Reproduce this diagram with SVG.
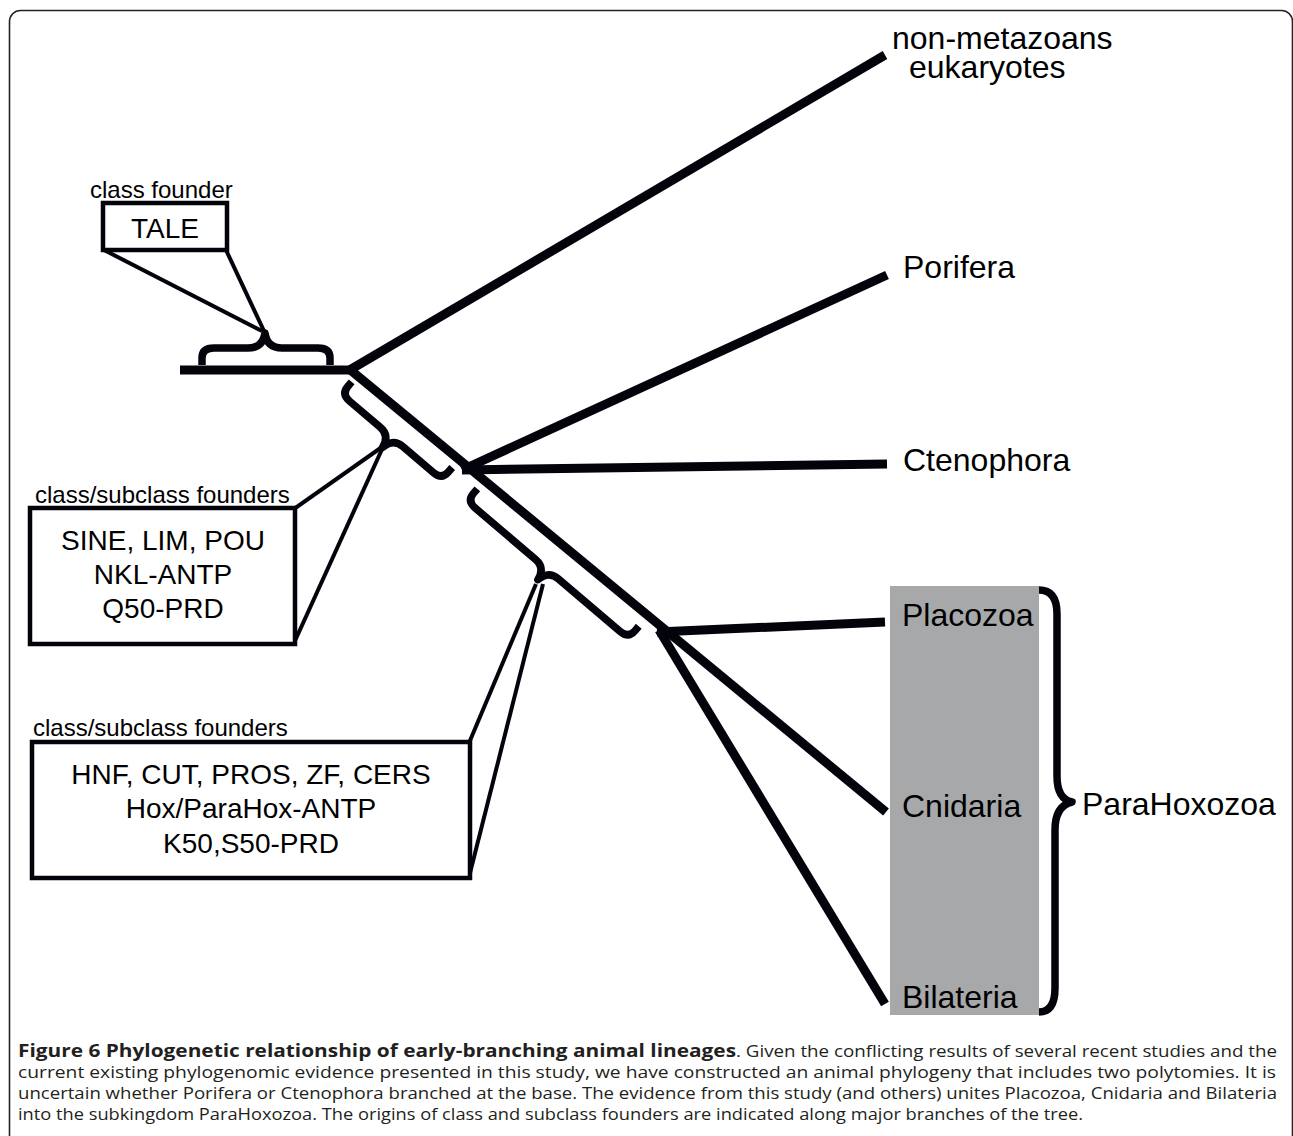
<svg xmlns="http://www.w3.org/2000/svg" width="1293" height="1136" viewBox="0 0 1293 1136">
<style>
.br{stroke:#03030c;stroke-width:9;fill:none;stroke-linecap:butt}
.brace{stroke:#03030c;stroke-width:7.5;fill:none;stroke-linejoin:round}
.thin{stroke:#03030c;stroke-width:4;fill:none}
.box{fill:#fff;stroke:#03030c;stroke-width:4.5}
.lbl{font-family:"Liberation Sans",Arial,sans-serif;font-size:32px;fill:#000}
.bx{font-family:"Liberation Sans",Arial,sans-serif;font-size:28px;fill:#000;text-anchor:middle}
.sm{font-family:"Liberation Sans",Arial,sans-serif;font-size:24px;fill:#000}
.cap{font-family:"Open Sans","Liberation Sans",sans-serif;font-size:17px;fill:#231f20}
</style>
<rect x="9.5" y="10.5" width="1283" height="1150" rx="11" fill="#fff" stroke="#222" stroke-width="1.6"/>
<g id="parahox-bg"><rect x="890" y="586" width="149" height="429" fill="#a7a8aa"/></g>
<g id="connectors">
<line class="br" x1="180" y1="370" x2="353" y2="370"/>
<line class="br" x1="348" y1="371" x2="885" y2="55"/>
<line class="br" x1="348" y1="368" x2="886" y2="812"/>
<line class="br" x1="462" y1="470" x2="887" y2="275"/>
<line class="br" x1="462" y1="470" x2="887" y2="464"/>
<line class="br" x1="657" y1="632" x2="885" y2="622"/>
<line class="br" x1="659" y1="630" x2="885" y2="1004"/>
<path class="brace" d="M202,365 L202,358 Q202,348 214,348 L248,348 Q263,348 265,333 Q267,348 282,348 L318,348 Q330,348 330,358 L330,365"/>
<g transform="translate(350,370) rotate(40.4)">
<path class="brace" d="M9,8 L9,14 Q9,24 20,24 L60,24 Q73,24 75,38 Q77,24 90,24 L130,24 Q141,24 141,14 L141,8"/>
<path class="brace" d="M174,8 L174,14 Q174,24 185,24 L264,24 Q277,24 279,38 Q281,24 294,24 L375,24 Q386,24 386,14 L386,8"/>
</g>
<path class="brace" d="M1039,590 Q1057,590 1057,614 L1057,776 Q1057,799 1072,802 Q1055,806 1055,830 L1055,988 Q1055,1012 1039,1012"/>
<line class="thin" x1="104" y1="250" x2="262" y2="331"/>
<line class="thin" x1="226" y1="250" x2="264" y2="331"/>
<line class="thin" x1="294" y1="509" x2="382" y2="447"/>
<line class="thin" x1="294" y1="643" x2="383" y2="447"/>
<line class="thin" x1="469" y1="743" x2="536" y2="584"/>
<line class="thin" x1="469" y1="877" x2="543" y2="584"/>
</g>
<g id="node-nonmetazoa"><text class="lbl" x="892" y="49">non-metazoans</text><text class="lbl" x="909" y="78">eukaryotes</text></g>
<g id="node-porifera"><text class="lbl" x="903" y="278">Porifera</text></g>
<g id="node-ctenophora"><text class="lbl" x="903" y="471">Ctenophora</text></g>
<g id="node-placozoa"><text class="lbl" x="902" y="626">Placozoa</text></g>
<g id="node-cnidaria"><text class="lbl" x="902" y="817">Cnidaria</text></g>
<g id="node-bilateria"><text class="lbl" x="902" y="1008">Bilateria</text></g>
<g id="node-parahoxozoa"><text class="lbl" x="1082" y="815">ParaHoxozoa</text></g>
<g id="node-tale">
<text class="sm" x="90" y="198">class founder</text>
<rect class="box" x="103" y="203" width="124" height="47"/>
<text class="bx" x="165" y="238">TALE</text>
</g>
<g id="node-founders1">
<text class="sm" x="35" y="503">class/subclass founders</text>
<rect class="box" x="30" y="508" width="265" height="136"/>
<text class="bx" x="163" y="550">SINE, LIM, POU</text>
<text class="bx" x="163" y="584">NKL-ANTP</text>
<text class="bx" x="163" y="618">Q50-PRD</text>
</g>
<g id="node-founders2">
<text class="sm" x="33" y="736">class/subclass founders</text>
<rect class="box" x="32" y="742" width="438" height="136"/>
<text class="bx" x="251" y="784">HNF, CUT, PROS, ZF, CERS</text>
<text class="bx" x="251" y="818">Hox/ParaHox-ANTP</text>
<text class="bx" x="251" y="853">K50,S50-PRD</text>
</g>
<g id="caption">
<text class="cap" x="18" y="1057" font-weight="bold" textLength="718" lengthAdjust="spacingAndGlyphs">Figure 6 Phylogenetic relationship of early-branching animal lineages</text>
<text class="cap" x="736" y="1057" textLength="541" lengthAdjust="spacingAndGlyphs">. Given the conflicting results of several recent studies and the</text>
<text class="cap" x="18" y="1078" textLength="1258" lengthAdjust="spacingAndGlyphs">current existing phylogenomic evidence presented in this study, we have constructed an animal phylogeny that includes two polytomies. It is</text>
<text class="cap" x="18" y="1099" textLength="1259" lengthAdjust="spacingAndGlyphs">uncertain whether Porifera or Ctenophora branched at the base. The evidence from this study (and others) unites Placozoa, Cnidaria and Bilateria</text>
<text class="cap" x="18" y="1120" textLength="1065" lengthAdjust="spacingAndGlyphs">into the subkingdom ParaHoxozoa. The origins of class and subclass founders are indicated along major branches of the tree.</text>
</g>
</svg>
